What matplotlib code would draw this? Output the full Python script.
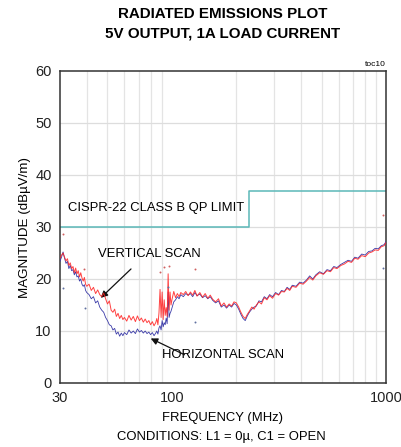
import matplotlib
matplotlib.use("Agg")
import matplotlib.pyplot as plt
from matplotlib import font_manager as fm

names = {f.name for f in fm.fontManager.ttflist}
FAM = ['Liberation Sans Narrow', 'Liberation Sans', 'DejaVu Sans'] if 'Liberation Sans Narrow' in names else ['Liberation Sans', 'DejaVu Sans']
plt.rcParams['font.family'] = FAM

# Frequency grid (MHz)
freq = [30, 30.5, 31, 31.5, 32, 32.5, 33, 33.5, 34, 34.5,
        35, 35.5, 36, 36.5, 37, 37.5, 38, 38.5, 39, 39.5,
        40, 41, 42, 43, 44, 45, 46, 47, 48, 49,
        50, 51, 52, 53, 54, 55, 56, 57, 58, 59,
        60, 61.5, 63, 64.5, 66, 67.5, 69, 70.5, 72, 73.5,
        75, 76.5, 78, 79.5, 81, 82.5, 84, 85, 86, 87,
        88, 89, 90, 91, 92, 93, 94, 95, 96, 97,
        98, 99, 100, 102, 104, 106, 108, 110, 113, 116,
        119, 122, 125, 128, 131, 135, 139, 143, 147, 151,
        155, 160, 165, 170, 175, 180, 185, 190, 195, 200,
        205, 210, 215, 220, 225, 230, 236, 242, 248, 255,
        262, 270, 278, 286, 295, 305, 315, 325, 335, 345,
        355, 365, 380, 395, 410, 425, 440, 455, 470, 490,
        510, 530, 550, 570, 590, 615, 640, 665, 690, 715,
        740, 770, 800, 830, 860, 890, 920, 950, 980, 1000]

# Vertical scan (red), dBuV/m
vertical = [24.0, 24.6, 25.0, 24.2, 23.5, 23.9, 22.6, 23.1, 22.0, 22.4,
            21.2, 22.1, 21.0, 21.6, 20.4, 21.2, 20.2, 19.6, 20.3, 19.0,
            18.6, 19.0, 17.8, 18.4, 17.2, 17.9, 17.0, 16.6, 17.3, 16.2,
            15.2, 15.8, 14.0, 13.6, 14.2, 12.8, 13.4, 12.4, 13.0, 12.2,
            12.6, 11.9, 13.0, 12.1, 12.8, 11.8, 12.9, 12.0, 12.5, 11.7,
            12.3, 11.6, 12.0, 11.2, 11.8, 11.0, 11.6, 12.4, 11.2, 13.5,
            18.0, 12.6, 17.5, 12.2, 16.0, 13.0, 14.5, 12.8, 21.0, 14.0,
            17.5, 15.0, 16.0, 17.6, 16.4, 17.2, 16.6, 17.4, 17.0, 17.6,
            16.8, 17.5, 16.9, 17.8, 16.7, 17.4, 16.5, 17.2, 16.3, 16.9,
            16.1, 15.6, 16.2, 14.8, 15.4, 14.6, 15.2, 14.8, 15.6, 15.4,
            14.6, 13.6, 12.8, 12.4, 13.2, 13.8, 14.6, 14.2, 15.0, 15.6,
            15.2, 16.4, 16.0, 16.8, 16.3, 17.2, 16.9, 17.6, 17.5, 18.2,
            17.8, 18.6, 18.4, 19.2, 19.0, 19.6, 20.3, 19.8, 20.6, 21.2,
            20.9, 21.6, 21.4, 22.2, 22.0, 22.6, 22.9, 23.4, 23.2, 24.0,
            23.8, 24.5, 24.3, 25.0, 25.2, 25.6, 25.5, 26.2, 26.4, 27.0]

# Horizontal scan (blue), dBuV/m
horizontal = [23.4, 24.2, 25.2, 24.0, 23.0, 23.4, 22.0, 22.6, 21.6, 21.8,
              20.8, 21.4, 20.4, 20.6, 19.6, 20.0, 19.0, 18.6, 18.9, 17.8,
              17.4, 17.0, 16.2, 16.6, 15.4, 15.8, 14.6, 14.0, 13.6, 12.6,
              12.0, 11.2, 11.0, 10.2, 10.5, 9.4, 9.8, 9.0, 9.6, 9.1,
              9.7, 9.3, 10.2, 9.6, 10.0, 9.5, 10.4, 9.8, 10.1, 9.6,
              10.0, 9.5, 9.8, 9.3, 9.7, 9.1, 9.6, 10.0, 9.4, 10.6,
              11.0, 10.2, 12.0, 10.8, 11.6, 11.2, 12.5, 11.4, 17.5, 12.6,
              13.4, 13.8, 14.4, 15.6, 16.0, 16.6, 16.2, 17.0, 16.6, 17.2,
              16.9, 17.2, 16.6, 17.4, 16.8, 17.1, 16.4, 16.8, 16.2, 16.6,
              15.9, 15.4, 15.8, 14.6, 15.0, 14.4, 15.0, 14.6, 15.3, 15.0,
              14.2, 13.2, 12.4, 12.0, 12.9, 13.6, 14.2, 14.6, 14.8, 15.8,
              15.6, 16.6, 16.2, 17.0, 16.6, 17.4, 17.0, 17.8, 17.6, 18.4,
              18.0, 18.8, 18.6, 19.4, 19.2, 19.8, 20.6, 20.0, 20.8, 21.4,
              21.0, 21.8, 21.6, 22.4, 22.2, 22.8, 23.2, 23.6, 23.4, 24.2,
              24.0, 24.8, 24.6, 25.3, 25.4, 25.9, 25.8, 26.4, 26.6, 27.2]

# Quasi-peak markers
qp_v_freq = [31, 38.8, 87.8, 92.3, 96.9, 128, 970]
qp_v_val = [28.6, 22.0, 21.3, 22.3, 22.5, 22.0, 32.3]
qp_h_freq = [31, 39.2, 96, 128, 970]
qp_h_val = [18.2, 14.4, 18.5, 11.7, 22.1]

# CISPR-22 class B QP limit
limit_freq = [30, 230, 230, 1000]
limit_val = [30, 30, 37, 37]

xticks = [30, 100, 1000]
xticklabels = ['30', '100', '1000']
yticks = [0, 10, 20, 30, 40, 50, 60]

fig = plt.figure(figsize=(4.01, 4.47), dpi=100)
ax = fig.add_axes([60/401, 64/447, 326/401, 312/447])
ax.set_xscale('log')
ax.set_xlim(30, 1000)
ax.set_ylim(0, 60)

# grid
minor = [40, 50, 60, 70, 80, 90, 200, 300, 400, 500, 600, 700, 800, 900]
for m in minor:
    ax.axvline(m, color='#e4e4e4', lw=0.9, zorder=0)
for y in [10, 20, 30, 40, 50]:
    ax.axhline(y, color='#dddddd', lw=0.9, zorder=0)

ax.plot(limit_freq, limit_val, color='#5bb8b8', lw=1.1, zorder=2)
ax.plot(freq, horizontal, color='#3a3aa8', lw=0.6, zorder=3)
ax.plot(freq, vertical, color='#ff2020', lw=0.7, alpha=0.85, zorder=4)
ax.scatter(qp_v_freq, qp_v_val, s=2, color='#d06060', zorder=5, linewidths=0)
ax.scatter(qp_h_freq, qp_h_val, s=2, color='#6070a0', zorder=5, linewidths=0)

ax.set_xticks(xticks)
ax.set_xticklabels(xticklabels)
ax.set_xticks([], minor=True)
ax.set_yticks(yticks)
ax.tick_params(axis='both', length=0, labelsize=10.5, pad=6, colors='#222222')
for s in ax.spines.values():
    s.set_color('#333333')
    s.set_linewidth(1.1)

ax.set_xlabel('FREQUENCY (MHz)', fontsize=9.4, labelpad=5)
ax.set_ylabel('MAGNITUDE (dBµV/m)', fontsize=9.6, labelpad=3)
fig.text(0.552, 0.022, 'CONDITIONS: L1 = 0µ, C1 = OPEN', ha='center', va='center', fontsize=9.4)

fig.text(0.555, 0.968, 'RADIATED EMISSIONS PLOT', ha='center', va='center', fontsize=10.9, fontweight='bold')
fig.text(0.555, 0.925, '5V OUTPUT, 1A LOAD CURRENT', ha='center', va='center', fontsize=10.9, fontweight='bold')
ax.text(1.0, 1.01, 'toc10', transform=ax.transAxes, ha='right', va='bottom', fontsize=6)

ax.text(32.6, 33.6, 'CISPR-22 CLASS B QP LIMIT', fontsize=9.4, va='center', ha='left')
ax.text(45, 24.9, 'VERTICAL SCAN', fontsize=9.4, va='center', ha='left')
ax.text(89.8, 5.3, 'HORIZONTAL SCAN', fontsize=9.4, va='center', ha='left')

ax.annotate('', xy=(45.5, 16.0), xytext=(65.8, 22.3),
            arrowprops=dict(arrowstyle='-|>', color='#111111', lw=0.9, mutation_scale=10))
ax.annotate('', xy=(77.5, 8.8), xytext=(117.6, 5.2),
            arrowprops=dict(arrowstyle='-|>', color='#111111', lw=0.9, mutation_scale=10))

fig.savefig('out.png', dpi=100)
